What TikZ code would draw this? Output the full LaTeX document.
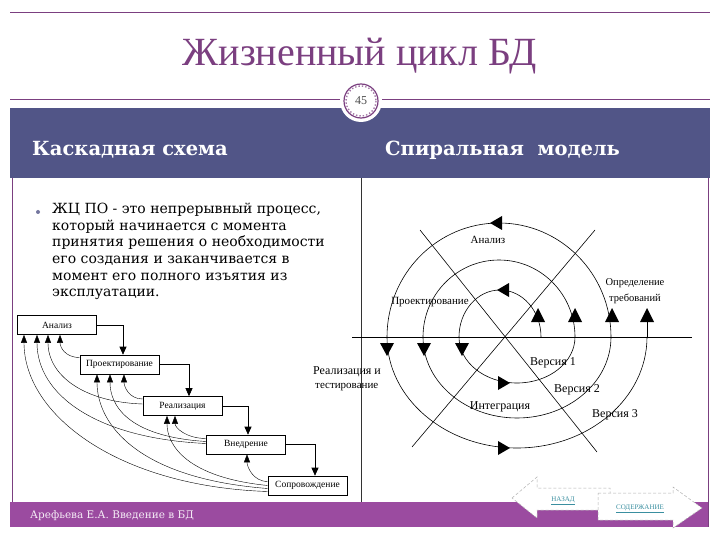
\documentclass[tikz,border=0pt]{standalone}
\usepackage{fontspec}
\setmainfont{Liberation Serif}
\newfontfamily\bodyfont{DejaVu Serif}
\usetikzlibrary{arrows.meta,calc}
\definecolor{band}{HTML}{515587}
\definecolor{foot}{HTML}{9B4BA0}
\definecolor{ttl}{HTML}{7B3F80}
\definecolor{lnk}{HTML}{3A8FA0}
\begin{document}
\begin{tikzpicture}[x=1pt,y=-1pt,
  cbox/.style={draw,line width=0.6pt,minimum width=79pt,minimum height=19pt,inner sep=0pt,font=\fontsize{9.5}{10}\selectfont},
  stepln/.style={line width=0.6pt,-{Triangle[width=7pt,length=8pt]}},
  fback/.style={line width=0.4pt,-{Triangle[width=6pt,length=8pt]}},
  slab/.style={font=\fontsize{11}{12}\selectfont,inner sep=0pt},
  spl/.style={line width=0.6pt},
  headtxt/.style={white,font=\bodyfont\bfseries\fontsize{19.5}{20}\selectfont,anchor=west,inner sep=0pt},
  navbtn/.style={fill=white,draw=gray!60,line width=0.5pt,densely dashed}]
\useasboundingbox (0,0) rectangle (720,540);
\fill[white] (0,0) rectangle (720,540);
% frame
\draw[ttl,line width=0.8pt] (10,12) -- (710,12);
\draw[ttl,line width=0.8pt] (12,178) -- (12,502);
\draw[ttl,line width=0.8pt] (708,178) -- (708,527);
\draw[ttl,line width=1pt] (10,100) -- (710,100);
\fill[band] (10,108) rectangle (710,178);
\fill[foot] (10,502) rectangle (708,527);
% title
\node[ttl,font=\fontsize{40}{42}\selectfont,inner sep=0pt] (title) at (360,56) {Жизненный цикл БД};
% page number
\fill[white] (361,101) circle (21);
\draw[ttl,line width=1.2pt] (361,101) circle (17);
\draw[ttl!70,line width=1.4pt,dotted] (361,101) circle (15);
\node[font=\fontsize{12}{13}\selectfont,text=black!70,inner sep=0pt] (pnum) at (361,101) {45};
% headings
\node[headtxt] (h1) at (32,150) {Каскадная схема};
\node[headtxt] (h2) at (385,150) {Спиральная\ \ модель};
% divider
\draw[black!80,line width=0.8pt] (361,178) -- (361,502);
% bullet text
\fill[band!80] (38,212) circle (2);
\node[anchor=north west,inner sep=0pt,align=left,font=\bodyfont\fontsize{14}{16.6}\selectfont] (txt) at (52,203)
 {ЖЦ ПО - это непрерывный процесс,\\который начинается с момента\\принятия решения о необходимости\\его создания и заканчивается в\\момент его полного изъятия из\\эксплуатации.};
% cascade
\node[cbox] (an) at (57,325) {Анализ};
\node[cbox] (pr) at (119.5,364.5) {Проектирование};
\node[cbox] (re) at (182.5,406) {Реализация};
\node[cbox] (vn) at (246,444.5) {Внедрение};
\node[cbox] (so) at (307.5,485.5) {Сопровождение};
\draw[stepln] (an.east) -| ($(pr.north)+(3.5,0)$);
\draw[stepln] (pr.east) -| ($(re.north)+(6.5,0)$);
\draw[stepln] (re.east) -| ($(vn.north)+(2,0)$);
\draw[stepln] (vn.east) -| ($(so.north)+(7.5,0)$);
\draw[fback] ($(pr.west)+(0,-7)$) .. controls +(-15,0) and +(0,12) .. ($(an.south)+(3,0)$);
\draw[fback] ($(re.west)+(0,-2)$) .. controls +(-60,-2) and +(0,40) .. ($(an.south)+(-9,0)$);
\draw[fback] ($(re.west)+(0,-7)$) .. controls +(-14,0) and +(0,12) .. ($(pr.south)+(4.5,0)$);
\draw[fback] ($(vn.west)+(0,-1)$) .. controls +(-110,-5) and +(0,60) .. ($(an.south)+(-20,0)$);
\draw[fback] ($(vn.west)+(0,-3)$) .. controls +(-80,-5) and +(0,30) .. ($(pr.south)+(-9.5,0)$);
\draw[fback] ($(vn.west)+(0,-6)$) .. controls +(-20,0) and +(0,12) .. ($(re.south)+(-7.5,0)$);
\draw[fback] ($(so.west)+(0,6)$) .. controls +(-150,-5) and +(0,80) .. ($(an.south)+(-33,0)$);
\draw[fback] ($(so.west)+(0,3)$) .. controls +(-130,-10) and +(0,50) .. ($(pr.south)+(-22.5,0)$);
\draw[fback] ($(so.west)+(0,0)$) .. controls +(-80,-8) and +(0,30) .. ($(re.south)+(-15.5,0)$);
\draw[fback] ($(so.west)+(0,-4)$) .. controls +(-15,0) and +(0,12) .. ($(vn.south)+(1,0)$);
% spiral
\draw[spl] (352,337) -- (692,337);
\draw[spl] (420,230) -- (597,452);
\draw[spl] (595,230) -- (412,447);
\draw[spl] (541,337) arc[start angle=0,end angle=-180,x radius=41,y radius=47];
\draw[spl] (459,337) arc[start angle=180,end angle=0,x radius=58,y radius=46];
\draw[spl] (575,337) arc[start angle=0,end angle=-180,x radius=76,y radius=77];
\draw[spl] (423,337) arc[start angle=180,end angle=0,x radius=94,y radius=81];
\draw[spl] (611,337) arc[start angle=0,end angle=-180,x radius=112,y radius=114];
\draw[spl] (387,337) arc[start angle=180,end angle=0,x radius=130,y radius=111];
\draw[spl] (647,337) -- (647,314);
% up arrows
\foreach \ax in {538,575,612,647} \fill (\ax-7,322) -- (\ax+7,322) -- (\ax,308) -- cycle;
% down arrows
\foreach \ax in {387,424,462} \fill (\ax-7,343) -- (\ax+7,343) -- (\ax,356) -- cycle;
% left arrows
\fill (497,290) -- (509,283) -- (509,297) -- cycle;
\fill (490,223) -- (502,216) -- (502,230) -- cycle;
% right arrows
\fill (510,383) -- (498,376) -- (498,390) -- cycle;
\fill (510,448) -- (498,441) -- (498,455) -- cycle;
% spiral labels
\node[slab] (lan) at (488,240) {Анализ};
\node[slab,align=center,font=\fontsize{10.5}{16}\selectfont] (lop) at (635,291) {Определение\\требований};
\node[slab] (lpr) at (430,302) {Проектирование};
\node[slab,anchor=west,font=\fontsize{12}{13}\selectfont] (lre) at (313,372) {Реализация и};
\node[slab,anchor=west,font=\fontsize{11}{12}\selectfont] (lte) at (315,387) {тестирование};
\node[slab,font=\fontsize{12}{13}\selectfont] (v1) at (553,363) {Версия 1};
\node[slab,font=\fontsize{12}{13}\selectfont] (v2) at (577,390) {Версия 2};
\node[slab,font=\fontsize{12}{13}\selectfont] (v3) at (615,415) {Версия 3};
\node[slab,font=\fontsize{12}{13}\selectfont] (lin) at (500,407) {Интеграция};
% footer
\node[anchor=west,inner sep=0pt,text=white!90!foot,font=\bodyfont\fontsize{10.5}{12}\selectfont] (auth) at (30,516) {Арефьева Е.А. Введение в БД};
% nav buttons
\draw[navbtn] (512,498) -- (537,477) -- (537,488) -- (610,488) -- (610,510) -- (537,510) -- (537,518) -- cycle;
\node[text=lnk,font=\fontsize{7}{8}\selectfont,inner sep=0pt] (back) at (563,501) {\underline{НАЗАД}};
\draw[navbtn] (598,493) -- (673,493) -- (673,487) -- (702,508) -- (673,528) -- (673,520) -- (598,520) -- cycle;
\node[text=lnk,font=\fontsize{7}{8}\selectfont,inner sep=0pt] (cont) at (640,509) {\underline{СОДЕРЖАНИЕ}};
\end{tikzpicture}
\end{document}
